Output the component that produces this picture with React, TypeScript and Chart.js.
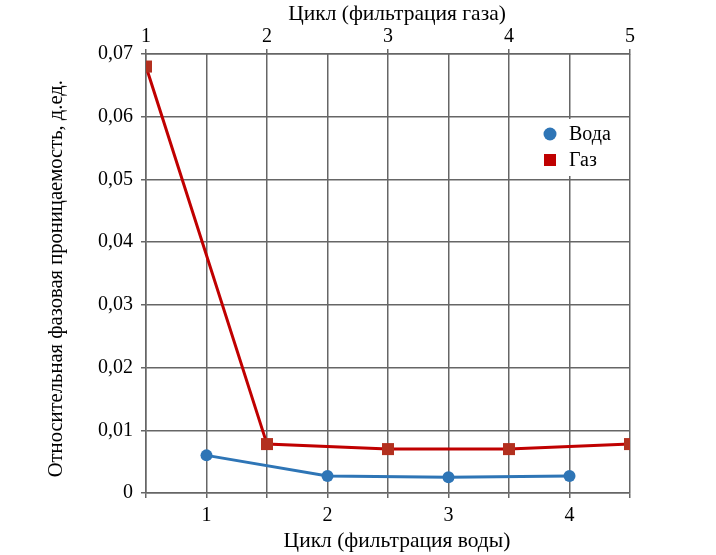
import React, { useEffect, useRef } from "react";
import { Chart, registerables } from "chart.js";

Chart.register(...registerables);

// water filtration cycles (bottom axis) and gas filtration cycles (top axis)
const waterCycles = [1, 2, 3, 4];
const waterValues = [0.006, 0.0027, 0.0025, 0.0027];
const gasCycles = [1, 2, 3, 4, 5];
const gasValues = [0.068, 0.0078, 0.007, 0.007, 0.0078];

const yTicks = [0, 0.01, 0.02, 0.03, 0.04, 0.05, 0.06, 0.07];

const FONT = "'Liberation Serif', 'Times New Roman', serif";
const GRID = "#666666";
const BLUE = "#2e75b6";
const RED = "#c00000";
const SQUARE = "#b3301f";

const legendPlugin = {
  id: "boxLegend",
  afterDraw(chart: Chart) {
    const { ctx, chartArea } = chart;
    const x0 = chartArea.right - 120;
    const y0 = chartArea.top + 65;
    ctx.save();
    ctx.fillStyle = "#ffffff";
    ctx.fillRect(x0, y0, 116, 57);
    ctx.font = "20px " + FONT;
    ctx.textBaseline = "middle";
    ctx.fillStyle = BLUE;
    ctx.beginPath();
    ctx.arc(x0 + 40, y0 + 15, 6.5, 0, Math.PI * 2);
    ctx.fill();
    ctx.fillStyle = RED;
    ctx.fillRect(x0 + 34, y0 + 35, 12, 12);
    ctx.fillStyle = "#000";
    ctx.fillText("Вода", x0 + 59, y0 + 16);
    ctx.fillText("Газ", x0 + 59, y0 + 42);

    // horizontal axis titles, centred slightly right of the plot centre
    const cx = (chartArea.left + chartArea.right) / 2 + 9;
    ctx.font = "21.5px " + FONT;
    ctx.textAlign = "center";
    ctx.fillText("Цикл (фильтрация газа)", cx, 14);
    ctx.fillText("Цикл (фильтрация воды)", cx, 541);
    ctx.restore();
  },
};

export default function App() {
  const canvasEl = useRef<HTMLCanvasElement>(null);

  useEffect(() => {
    if (!canvasEl.current) return;
    const ctx = canvasEl.current.getContext("2d");
    if (!ctx) return;

    const chart = new Chart(ctx, {
      type: "line",
      data: {
        datasets: [
          {
            label: "Вода",
            data: waterCycles.map((c, i) => ({ x: c, y: waterValues[i] })),
            xAxisID: "x",
            borderColor: BLUE,
            backgroundColor: BLUE,
            borderWidth: 3,
            pointStyle: "circle",
            pointRadius: 6,
            pointBorderWidth: 0,
          },
          {
            label: "Газ",
            data: gasCycles.map((c, i) => ({ x: c, y: gasValues[i] })),
            xAxisID: "x2",
            borderColor: RED,
            backgroundColor: SQUARE,
            pointBackgroundColor: SQUARE,
            pointBorderColor: SQUARE,
            borderWidth: 3,
            pointStyle: "rect",
            pointRadius: 8.5,
            pointBorderWidth: 0,
          },
        ],
      },
      options: {
        animation: false,
        responsive: true,
        maintainAspectRatio: false,
        layout: { padding: { left: 0, right: 86, top: 0, bottom: 0 } },
        plugins: {
          legend: { display: false },
          tooltip: { enabled: false },
        },
        scales: {
          x: {
            type: "linear",
            position: "bottom",
            min: 0.5,
            max: 4.5,
            ticks: {
              stepSize: 0.5,
              autoSkip: false,
              maxRotation: 0,
              padding: 6,
              color: "#000",
              font: { family: FONT, size: 20 },
              callback: (v) => (Number.isInteger(Number(v)) ? String(v) : ""),
            },
            grid: { color: GRID, lineWidth: 1.5, tickLength: 5 },
            border: { color: GRID, width: 1.5 },
            title: { display: false },
            afterFit: (s) => {
              s.height = 62;
            },
          },
          x2: {
            type: "linear",
            position: "top",
            min: 1,
            max: 5,
            ticks: {
              stepSize: 1,
              maxRotation: 0,
              padding: 0,
              color: "#000",
              font: { family: FONT, size: 20 },
            },
            grid: { drawOnChartArea: false, color: GRID, lineWidth: 1.5, tickLength: 5 },
            border: { color: GRID, width: 1.5 },
            title: { display: false },
            afterFit: (s) => {
              s.height = 54;
            },
          },
          y: {
            type: "linear",
            min: 0,
            max: 0.07,
            afterBuildTicks: (s) => {
              s.ticks = yTicks.map((v) => ({ value: v }));
            },
            ticks: {
              padding: 8,
              color: "#000",
              font: { family: FONT, size: 20 },
              callback: (v) => (Number(v) === 0 ? "0" : Number(v).toFixed(2).replace(".", ",")),
            },
            grid: { color: GRID, lineWidth: 1.5, tickLength: 5 },
            border: { color: GRID, width: 1.5 },
            title: {
              display: true,
              text: "Относительная фазовая проницаемость, д.ед.\u00a0\u00a0",
              color: "#000",
              font: { family: FONT, size: 20.6 },
              padding: { top: 44, bottom: 0 },
            },
            afterFit: (s) => {
              s.width = 146;
            },
          },
        },
      },
      plugins: [legendPlugin],
    });

    return () => {
      chart.destroy();
    };
  }, []);

  return (
    <div style={{ position: "fixed", left: 0, top: 0, width: 716, height: 555, background: "#fff" }}>
      <canvas ref={canvasEl} />
    </div>
  );
}
